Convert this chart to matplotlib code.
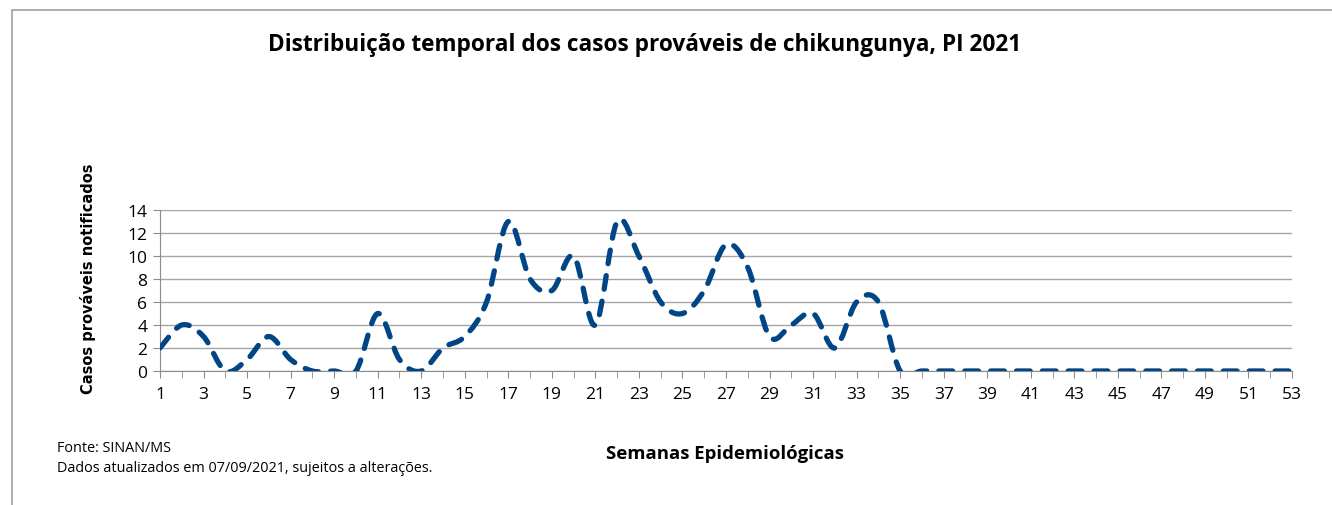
import numpy as np
import matplotlib
matplotlib.use("Agg")
import matplotlib.pyplot as plt
from matplotlib.path import Path
from matplotlib.patches import PathPatch, Rectangle

# ------------------------------------------------------------------ dados
semanas = list(range(1, 54))
casos = [2, 4, 3, 0, 1, 3, 1, 0, 0, 0,
         5, 1, 0, 2, 3, 6, 13, 8, 7, 10,
         4, 13, 10, 6, 5, 7, 11, 9, 3, 4,
         5, 2, 6, 6, 0, 0, 0, 0, 0, 0,
         0, 0, 0, 0, 0, 0, 0, 0, 0, 0,
         0, 0, 0]
yticks = list(range(0, 15, 2))
xticks = list(range(1, 54, 2))

TITULO = "Distribuição temporal dos casos prováveis de chikungunya, PI 2021"
XLAB = "Semanas Epidemiológicas"
YLAB = "Casos prováveis notificados"
FONTE = "Fonte: SINAN/MS"
NOTA = "Dados atualizados em 07/09/2021, sujeitos a alterações."
AZUL = '#004586'
FONT = 'Open Sans'


def linha_suave(x, y):
    """Curva Bezier estilo Excel (linha suavizada) passando pelos pontos."""
    p = np.column_stack([x, y]).astype(float)
    n = len(p)
    verts = [p[0]]; codes = [Path.MOVETO]
    for i in range(n - 1):
        p0 = p[max(i - 1, 0)]; p1 = p[i]; p2 = p[i + 1]; p3 = p[min(i + 2, n - 1)]
        c1 = p1 + (p2 - p0) / 6.0
        c2 = p2 - (p3 - p1) / 6.0
        verts += [c1, c2, p2]; codes += [Path.CURVE4] * 3
    return Path(verts, codes)


fig = plt.figure(figsize=(13.32, 5.06), dpi=100)
fig.patches.append(Rectangle((12 / 1332, -0.1), 1.2, 1 - 11 / 506 + 0.1,
                             transform=fig.transFigure, fill=False,
                             edgecolor='#a0a0a0', lw=1.2))

ax = fig.add_axes([160 / 1332, 1 - 372 / 506, (1292 - 160) / 1332, (372 - 211) / 506])
ax.add_patch(PathPatch(linha_suave(semanas, casos), fill=False, edgecolor=AZUL,
                       lw=3.8, ls=(0, (2.6, 2.3)), capstyle='round', joinstyle='round',
                       transform=ax.transData, zorder=3))
ax.set_xlim(1, 53); ax.set_ylim(0, 14)
ax.set_xticks(xticks); ax.set_xticks(semanas, minor=True)
ax.set_yticks(yticks)
ax.grid(axis='y', color='#a6a6a6', lw=1.0)
for s in ['top', 'right']:
    ax.spines[s].set_visible(False)
for s in ['left', 'bottom']:
    ax.spines[s].set_color('#8c8c8c')
ax.tick_params(axis='both', which='both', color='#8c8c8c', direction='out')
ax.tick_params(axis='x', which='both', length=5)
ax.tick_params(axis='y', length=5, pad=4)
ax.tick_params(axis='x', which='major', pad=6)
for lab in ax.get_xticklabels() + ax.get_yticklabels():
    lab.set_fontfamily(FONT); lab.set_fontsize(12.5)
ax.set_axisbelow(True)

fig.text(645 / 1332, 1 - 45 / 506, TITULO, ha='center', va='center', fontsize=16.3,
         fontweight='bold', family=FONT)
fig.text(88 / 1332, 1 - 279 / 506, YLAB, rotation=90, ha='center', va='center',
         fontsize=10.5, fontweight='bold', family='DejaVu Sans')
fig.text(725 / 1332, 1 - 454 / 506, XLAB, ha='center', va='center', fontsize=13.3,
         fontweight='bold', family=FONT)
fig.text(57 / 1332, 1 - 449 / 506, FONTE, ha='left', va='center', fontsize=10.4, family=FONT)
fig.text(57 / 1332, 1 - 469 / 506, NOTA, ha='left', va='center', fontsize=10.4, family=FONT)

fig.savefig("out.png", dpi=100)
